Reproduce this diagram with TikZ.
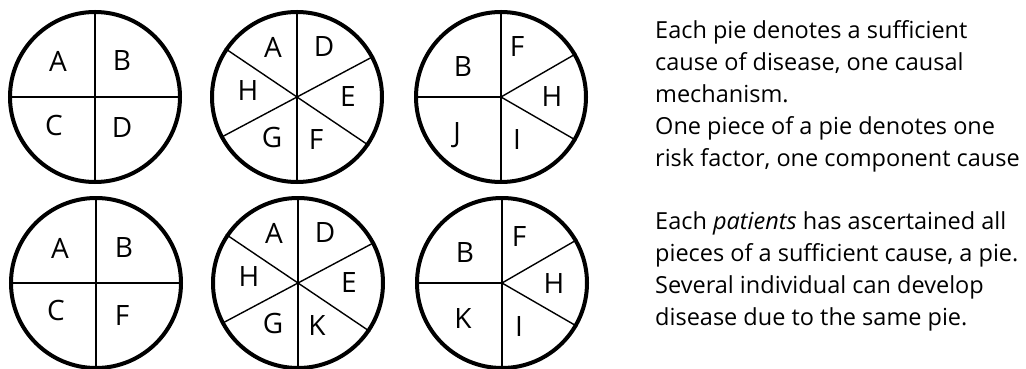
\documentclass[tikz,border=0pt]{standalone}
\usepackage{fontspec}
\setmainfont{Open Sans}
\usetikzlibrary{calc}
\begin{document}
\begin{tikzpicture}[x=1pt,y=-1pt,
  pie/.style={circle,draw,line width=4pt,minimum size=170pt,inner sep=0pt},
  cut/.style={line width=1.4pt},
  lab/.style={font=\fontsize{28}{30}\selectfont,inner sep=0pt},
  note/.style={font=\fontsize{23.5}{32}\selectfont,align=left,anchor=north west,inner sep=0pt}]
\useasboundingbox (0,0) rectangle (1026,369);

% pies
\node[pie] (p1) at (95,97) {};
\node[pie] (p2) at (297,97) {};
\node[pie] (p3) at (501,97) {};
\node[pie] (p4) at (96,283) {};
\node[pie] (p5) at (298,283) {};
\node[pie] (p6) at (502,283) {};

% four quarters
\foreach \p in {p1,p4}{
  \draw[cut] (\p.north) -- (\p.south);
  \draw[cut] (\p.west) -- (\p.east);
}
% six slices
\foreach \p in {p2,p5}{
  \draw[cut] (\p.north) -- (\p.south);
  \draw[cut] (\p.146) -- (\p.-34);
  \draw[cut] (\p.28) -- (\p.208);
}
% half plus three wedges
\foreach \p in {p3,p6}{
  \draw[cut] (\p.north) -- (\p.south);
  \draw[cut] (\p.west) -- (\p.center);
  \draw[cut] (\p.center) -- (\p.30);
  \draw[cut] (\p.center) -- (\p.-30);
}

% labels, top row
\node[lab] (a1) at ($(p1)+(-37,-36)$) {A};
\node[lab] (b1) at ($(p1)+(27,-36)$) {B};
\node[lab] (c1) at ($(p1)+(-41,28)$) {C};
\node[lab] (d1) at ($(p1)+(27,31)$) {D};

\node[lab] (a2) at ($(p2)+(-24,-50)$) {A};
\node[lab] (d2) at ($(p2)+(27,-50)$) {D};
\node[lab] (h2) at ($(p2)+(-49,-6)$) {H};
\node[lab] (e2) at ($(p2)+(51,0)$) {E};
\node[lab] (g2) at ($(p2)+(-25,40)$) {G};
\node[lab] (f2) at ($(p2)+(19,43)$) {F};

\node[lab] (b3) at ($(p3)+(-38,-30)$) {B};
\node[lab] (f3) at ($(p3)+(16,-50)$) {F};
\node[lab] (h3) at ($(p3)+(51,0)$) {H};
\node[lab] (j3) at ($(p3)+(-44,38)$) {J};
\node[lab] (i3) at ($(p3)+(16,43)$) {I};

% labels, bottom row
\node[lab] (a4) at ($(p4)+(-36,-35)$) {A};
\node[lab] (b4) at ($(p4)+(28,-35)$) {B};
\node[lab] (c4) at ($(p4)+(-40,27)$) {C};
\node[lab] (f4) at ($(p4)+(26,33)$) {F};

\node[lab] (a5) at ($(p5)+(-24,-50)$) {A};
\node[lab] (d5) at ($(p5)+(27,-50)$) {D};
\node[lab] (h5) at ($(p5)+(-49,-6)$) {H};
\node[lab] (e5) at ($(p5)+(51,0)$) {E};
\node[lab] (g5) at ($(p5)+(-25,40)$) {G};
\node[lab] (k5) at ($(p5)+(19,43)$) {K};

\node[lab] (b6) at ($(p6)+(-37,-30)$) {B};
\node[lab] (f6) at ($(p6)+(17,-46)$) {F};
\node[lab] (h6) at ($(p6)+(52,1)$) {H};
\node[lab] (k6) at ($(p6)+(-39,36)$) {K};
\node[lab] (i6) at ($(p6)+(17,44)$) {I};

% explanatory notes
\node[note] (n1) at (655,20) {Each pie denotes a sufficient\\cause of disease, one causal\\mechanism.\\One piece of a pie denotes one\\risk factor, one component cause};
\node[note] (n2) at (655,211) {Each \textit{patients} has ascertained all\\pieces of a sufficient cause, a pie.\\Several individual can develop\\disease due to the same pie.};
\end{tikzpicture}
\end{document}
